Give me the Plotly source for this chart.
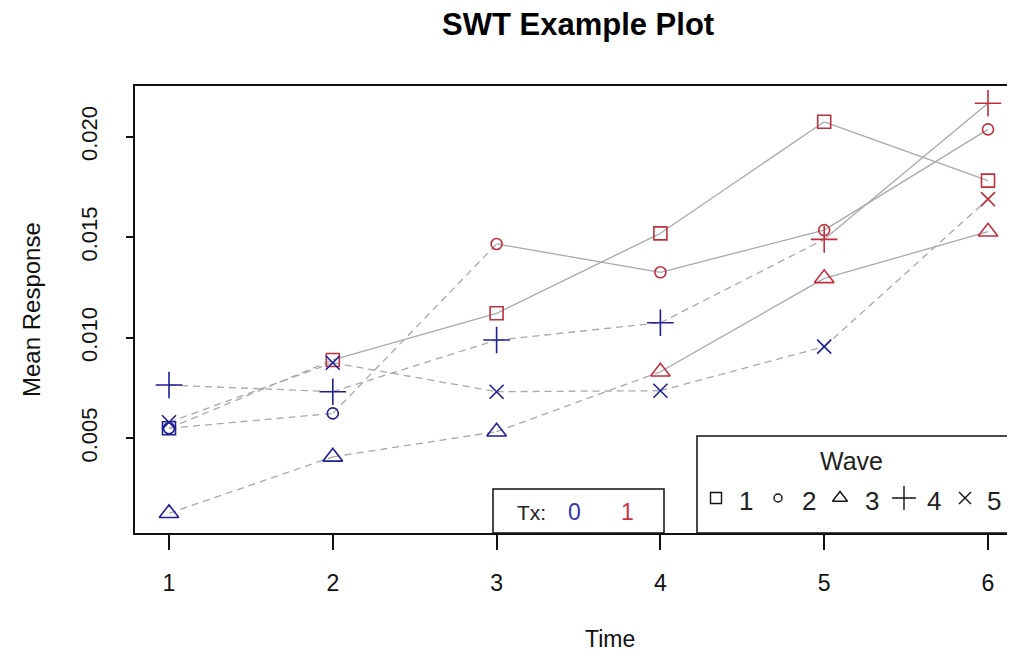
import plotly.graph_objects as go

# ---------------- data ----------------
times = [1, 2, 3, 4, 5, 6]
wave1 = [0.0055, 0.0089, 0.01122, 0.0152, 0.02075, 0.01782]
wave2 = [0.0055, 0.00624, 0.01467, 0.01326, 0.01536, 0.02037]
wave3 = [0.00127, 0.00408, 0.00533, 0.00831, 0.01296, 0.01528]
wave4 = [0.00765, 0.00732, 0.00989, 0.01075, 0.0149, 0.02167]
wave5 = [0.0058, 0.00876, 0.00732, 0.00737, 0.00956, 0.0169]
waves = [wave1, wave2, wave3, wave4, wave5]
wave_labels = ["1", "2", "3", "4", "5"]
tx_start = [2, 3, 4, 5, 6]          # time at which each wave switches to Tx=1
y_ticks = [0.005, 0.010, 0.015, 0.020]
y_ticktext = ["0.005", "0.010", "0.015", "0.020"]

# ---------------- style ----------------
OFF = 8                      # page body margin of the browser
W, H = 1015 - 2 * OFF, 663 - 2 * OFF
PLOT_L, PLOT_T, PLOT_B = 135, 86, 533     # screen pixels of the plot box
L, T = PLOT_L - OFF, PLOT_T - OFF
B = H - (PLOT_B - OFF)
R_ = 0
BLUE = "#1f1f96"
RED = "#c0303c"
GRAY = "#a9a9a9"
FONT = "Liberation Sans, Arial, sans-serif"
symbols = ["square-open", "circle-open", "triangle-up-open", "cross-thin-open", "x-thin-open"]
sizes = [13, 11, 17, 19, 14]

PX_PER_UNIT = 163.8
x_lo = 1 - (169 - PLOT_L) / PX_PER_UNIT
x_hi = x_lo + (W - L - R_) / PX_PER_UNIT

def px(xp):
    """screen pixel x -> paper x"""
    return (xp - OFF - L) / (W - L - R_)

def py(yp):
    """screen pixel y -> paper y"""
    return (H - B - (yp - OFF)) / (H - T - B)

fig = go.Figure()

# connecting lines: dashed while in control, solid once treated
for w, vals in enumerate(waves):
    for i in range(len(times) - 1):
        dashed = times[i] < tx_start[w]
        fig.add_trace(go.Scatter(
            x=[times[i], times[i + 1]], y=[vals[i], vals[i + 1]],
            mode="lines", showlegend=False, hoverinfo="skip",
            line=dict(color=GRAY, width=1.3, dash="7px,5px" if dashed else "solid"),
        ))

# markers coloured by treatment status
for w, vals in enumerate(waves):
    cols = [RED if t >= tx_start[w] else BLUE for t in times]
    fig.add_trace(go.Scatter(
        x=times, y=vals, mode="markers", showlegend=False,
        marker=dict(symbol=symbols[w], size=sizes[w], color=cols,
                    line=dict(width=1.6, color=cols)),
    ))

# legend keys on a pixel-space overlay axis
leg_sym_x = [716, 778, 840, 904, 965]
leg_lab_x = [746, 809, 872, 934, 994]
leg_sizes = [11, 8, 13, 17, 12]
for w in range(5):
    fig.add_trace(go.Scatter(
        x=[leg_sym_x[w]], y=[498], xaxis="x2", yaxis="y2", mode="markers",
        showlegend=False, hoverinfo="skip",
        marker=dict(symbol=symbols[w], size=leg_sizes[w], color="#111111",
                    line=dict(width=1.4, color="#111111")),
    ))

def ann(text, x, y, size, color="#111111", angle=0):
    return dict(text=text, x=px(x), y=py(y), xref="paper", yref="paper",
                xanchor="center", yanchor="middle", showarrow=False, textangle=angle,
                font=dict(size=size, color=color, family=FONT))

annotations = [
    ann("<b>SWT Example Plot</b>", 578, 25, 31, "#000000"),
    ann("Time", 610, 639, 23),
    ann("Mean Response", 31, 310, 24, angle=-90),
    ann("Tx:", 531, 512, 21, "#222222"),
    ann("0", 574, 512, 23, "#3333aa"),
    ann("1", 627, 512, 23, "#cc3344"),
    ann("Wave", 851, 461, 25, "#222222"),
]
for w in range(5):
    annotations.append(ann(wave_labels[w], leg_lab_x[w], 501, 26, "#222222"))

shapes = [
    dict(type="rect", xref="paper", yref="paper", x0=px(493), x1=px(664), y0=py(533), y1=py(489),
         line=dict(color="#111111", width=1.5), fillcolor="white", layer="below"),
    dict(type="rect", xref="paper", yref="paper", x0=px(697), x1=px(1040), y0=py(533), y1=py(436),
         line=dict(color="#111111", width=1.5), fillcolor="white", layer="below"),
]

fig.update_layout(
    width=W, height=H,
    margin=dict(l=L, r=R_, t=T, b=B),
    paper_bgcolor="white", plot_bgcolor="white",
    font=dict(family=FONT, color="#111111"),
    showlegend=False,
    xaxis=dict(range=[x_lo, x_hi], tickvals=times, ticktext=[str(t) for t in times],
               showgrid=False, zeroline=False, showline=True, linecolor="#111111", linewidth=1.5,
               mirror=True, ticks="outside", ticklen=15, tickwidth=1.5, tickcolor="#111111",
               tickfont=dict(size=23, family=FONT, color="#111111"), ticklabelstandoff=14),
    yaxis=dict(range=[0.00029, 0.02253], tickvals=y_ticks, ticktext=y_ticktext,
               showgrid=False, zeroline=False, showline=True, linecolor="#111111", linewidth=1.5,
               mirror=False, ticks="outside", ticklen=7, tickwidth=1.5, tickcolor="#111111",
               tickangle=-90, tickfont=dict(size=22, family=FONT, color="#111111"),
               ticklabelstandoff=20),
    xaxis2=dict(range=[L + OFF, W - R_ + OFF], overlaying="x", visible=False, fixedrange=True),
    yaxis2=dict(range=[H - B + OFF, T + OFF], overlaying="y", visible=False, fixedrange=True),
    annotations=annotations,
    shapes=shapes,
)

fig.write_html("out.html")
